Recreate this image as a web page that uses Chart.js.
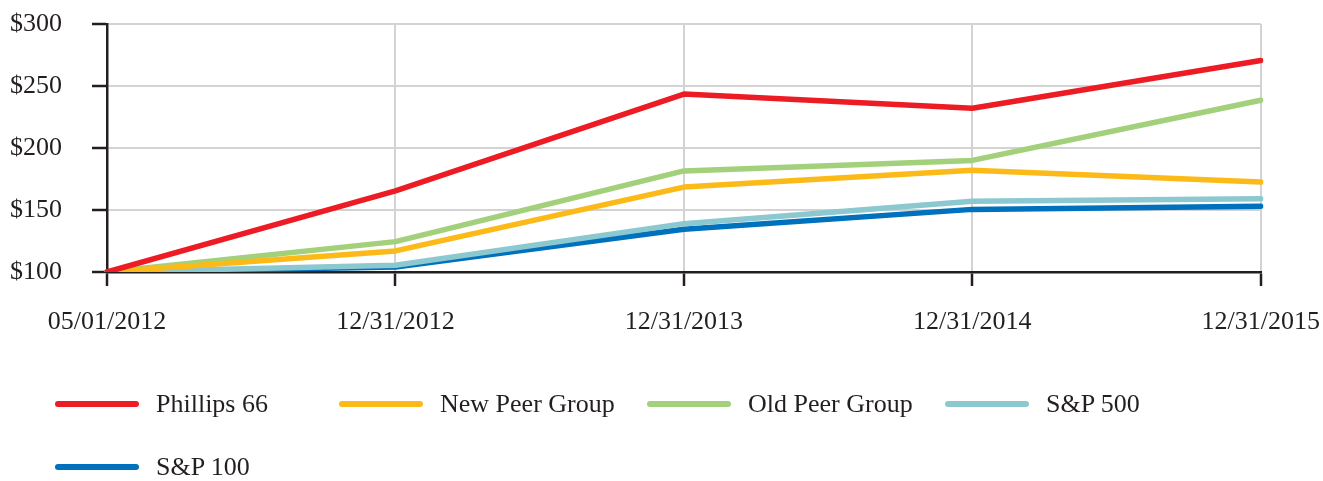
<!DOCTYPE html>
<html><head><meta charset="utf-8">
<script src="https://cdn.jsdelivr.net/npm/chart.js@4/dist/chart.umd.min.js"></script>
<style>
html,body{margin:0;padding:0;background:#fff;}
#wrap{position:relative;width:1323px;height:481px;overflow:hidden;}
#c{position:absolute;left:0;top:0;}
.lg{position:absolute;display:flex;align-items:center;height:30px;font-family:"Liberation Serif","Times New Roman",serif;font-size:26px;color:#231f20;white-space:nowrap;}
.lg .sw{display:inline-block;width:84px;height:6px;border-radius:3px;margin-right:17px;}
</style></head>
<body>
<div id="wrap"><canvas id="c" width="1323" height="481"></canvas></div>
<script>
const categories = ["05/01/2012","12/31/2012","12/31/2013","12/31/2014","12/31/2015"];
const phillips66 = [100, 165.5, 243.5, 232, 270.5];
const newPeerGroup = [100, 117, 168.5, 182, 172.5];
const oldPeerGroup = [100, 124.5, 181.5, 190, 238.5];
const sp500 = [100, 105.5, 139, 157, 159];
const sp100 = [100, 104, 134.5, 150.5, 153];
const seriesNames = ["Phillips 66","New Peer Group","Old Peer Group","S&P 500","S&P 100"];
const yTicks = [100,150,200,250,300];

const colors = ["#ed1c24","#fcba19","#a2d07b","#8cc8d0","#0071bc"];
const seriesData = [phillips66,newPeerGroup,oldPeerGroup,sp500,sp100];
const legendPos = [[55,404],[339,404],[647,404],[945,404],[55,467]];
const FONT = '"Liberation Serif","Times New Roman",serif';
const INK = '#231f20';

new Chart(document.getElementById('c'), {
  type: 'line',
  data: {
    labels: categories,
    datasets: seriesNames.map((n,i)=>({
      label: n, data: seriesData[i], borderColor: colors[i], backgroundColor: colors[i],
      borderWidth: 5.5, pointRadius: 0, tension: 0, borderCapStyle: 'round', borderJoinStyle: 'round', fill: false
    }))
  },
  options: {
    responsive: false, animation: false, devicePixelRatio: 1,
    layout: { padding: { left: 10, top: 24, right: 0, bottom: 123 } },
    plugins: { legend: { display: false }, tooltip: { enabled: false } },
    scales: {
      x: {
        type: 'category', offset: false,
        grid: { color: '#d3d3d3', lineWidth: 2, tickColor: INK, tickLength: 14, tickWidth: 2.5, drawOnChartArea: true },
        border: { color: INK, width: 2.5 },
        ticks: { font: { family: FONT, size: 26, lineHeight: '66px' }, color: INK, padding: 3, maxRotation: 0, autoSkip: false }
      },
      y: {
        min: 100, max: 300,
        afterBuildTicks: (s) => { s.ticks = yTicks.map(v=>({value:v})); },
        afterFit: (s) => { s.width = 97; },
        grid: { color: '#d3d3d3', lineWidth: 2, tickColor: INK, tickLength: 15, tickWidth: 2.5 },
        border: { color: INK, width: 2.5 },
        ticks: { font: { family: FONT, size: 26 }, color: INK, padding: 0, crossAlign: 'far', callback: v => '$' + v }
      }
    }
  }
});

const wrap = document.getElementById('wrap');
seriesNames.forEach((n,i)=>{
  const d = document.createElement('div');
  d.className = 'lg';
  d.style.left = legendPos[i][0] + 'px';
  d.style.top = (legendPos[i][1] - 15) + 'px';
  const sw = document.createElement('span');
  sw.className = 'sw'; sw.style.background = colors[i];
  d.appendChild(sw);
  d.appendChild(document.createTextNode(n));
  wrap.appendChild(d);
});
</script>
</body></html>
